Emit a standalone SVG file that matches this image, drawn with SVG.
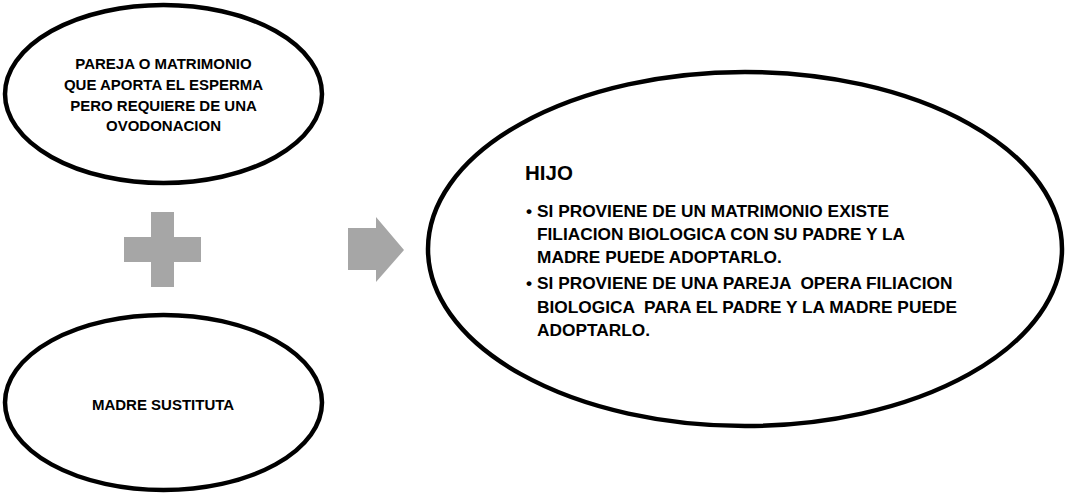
<svg xmlns="http://www.w3.org/2000/svg" width="1068" height="495" viewBox="0 0 1068 495">
  <style>
    .shape { fill: #ffffff; stroke: #000000; stroke-width: 4.5; }
    .sym { fill: #a6a6a6; stroke: none; }
    .t { font-family: "Liberation Sans", Arial, sans-serif; font-weight: bold; fill: #000000; white-space: pre; }
    .small { font-size: 15px; text-anchor: middle; }
    .big { font-size: 17.3px; }
    .title { font-size: 20.5px; }
  </style>
  <rect width="1068" height="495" fill="#ffffff"/>

  <g id="node-pareja">
    <ellipse class="shape" cx="163.5" cy="94" rx="158.5" ry="89"/>
    <text class="t small" x="163.5" y="68.5">PAREJA O MATRIMONIO</text>
    <text class="t small" x="163.5" y="89.5">QUE APORTA EL ESPERMA</text>
    <text class="t small" x="163.5" y="110.5">PERO REQUIERE DE UNA</text>
    <text class="t small" x="163.5" y="131">OVODONACION</text>
  </g>

  <g id="node-madre">
    <ellipse class="shape" cx="163.5" cy="402.5" rx="158.5" ry="87.5"/>
    <text class="t small" x="163" y="410">MADRE SUSTITUTA</text>
  </g>

  <g id="connectors">
    <path id="plus" class="sym" d="M151,212 H174 V237 H201 V262 H174 V287 H151 V262 H124 V237 H151 Z"/>
    <polygon id="arrow" class="sym" points="348,228 376,228 376,217 404,250 376,282 376,270 348,270"/>
  </g>

  <g id="node-hijo">
    <ellipse class="shape" cx="745" cy="249" rx="317" ry="177"/>
    <text class="t title" x="525" y="180">HIJO</text>
    <text class="t big" x="526" y="216.7">•</text>
    <text class="t big" x="537" y="216.7">SI PROVIENE DE UN MATRIMONIO EXISTE</text>
    <text class="t big" x="537" y="239.5">FILIACION BIOLOGICA CON SU PADRE Y LA</text>
    <text class="t big" x="537" y="262.5">MADRE PUEDE ADOPTARLO.</text>
    <text class="t big" x="526" y="289">•</text>
    <text class="t big" x="537" y="289">SI PROVIENE DE UNA PAREJA  OPERA FILIACION</text>
    <text class="t big" x="537" y="312.5">BIOLOGICA  PARA EL PADRE Y LA MADRE PUEDE</text>
    <text class="t big" x="537" y="336">ADOPTARLO.</text>
  </g>
</svg>
